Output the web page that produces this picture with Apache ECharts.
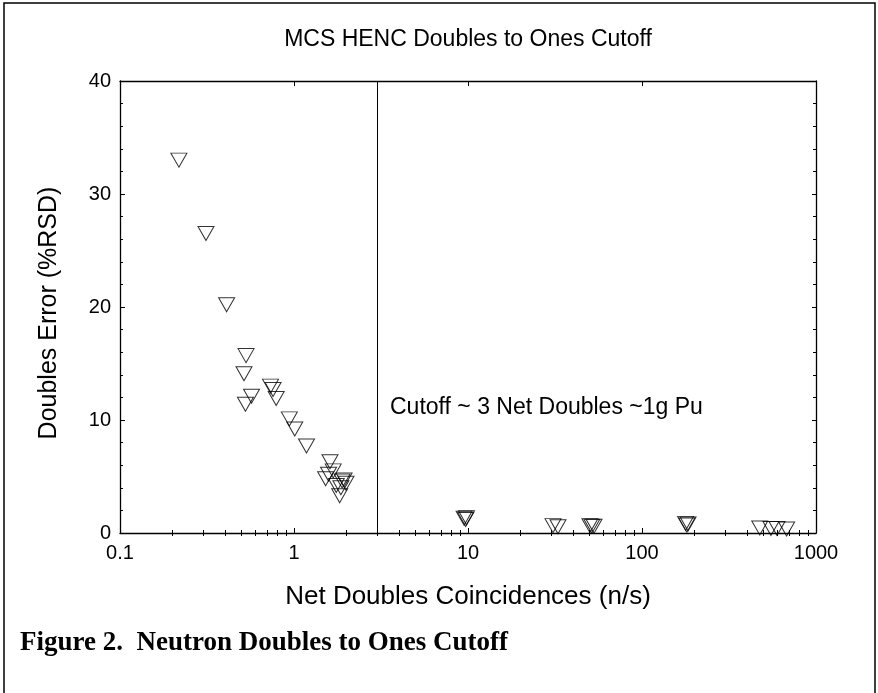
<!DOCTYPE html>
<html>
<head>
<meta charset="utf-8">
<script src="https://cdn.jsdelivr.net/npm/echarts@6/dist/echarts.min.js"></script>
<style>
html,body{margin:0;padding:0;background:#fff;}
#chart{width:878px;height:693px;}
</style>
</head>
<body>
<div id="chart"></div>
<script>
// ---- data ----
const netDoubles = [0.218, 0.312, 0.41, 0.53, 0.516, 0.57, 0.526, 0.733, 0.758, 0.79, 0.94, 1.01, 1.18, 1.61, 1.68, 1.52, 1.58, 1.75, 1.83, 1.94, 1.99, 1.89, 1.86,
  9.5, 9.7, 9.8, 30.8, 32.9, 50.2, 51.5, 53, 178, 181, 184, 475, 551, 597, 678];
const doublesError = [33.0, 26.5, 20.2, 15.7, 14.1, 12.1, 11.4, 13.0, 12.7, 11.9, 10.1, 9.2, 7.7, 6.3, 5.5, 4.8, 5.2, 4.2, 3.3, 4.7, 4.4, 4.6, 4.0,
  1.3, 1.2, 1.35, 0.65, 0.55, 0.65, 0.6, 0.6, 0.85, 0.7, 0.8, 0.45, 0.4, 0.4, 0.35];
const cutoff = 3;
const xTickLabels = ['0.1', '1', '10', '100', '1000'];
const yTicks = [0, 10, 20, 30, 40];
const minorMultipliers = [2, 3, 4, 5, 6, 7, 8, 9];

// ---- build ----
const points = netDoubles.map((x, i) => [x, doublesError[i]]);
const minorLog = [];
for (let d = -1; d < 3; d++) {
  minorMultipliers.forEach(m => minorLog.push(Math.log10(m * Math.pow(10, d))));
}
const FONT = '"Liberation Sans", Arial, sans-serif';

const chart = echarts.init(document.getElementById('chart'), null, {renderer: 'canvas'});
const axisLine = {show: true, onZero: false, lineStyle: {color: '#000', width: 1.3}};
const grid = {left: 120, top: 81, width: 696, height: 452};

chart.setOption({
  animation: false,
  backgroundColor: '#fff',
  grid: grid,
  xAxis: [
    { // bottom major (data axis)
      type: 'log', logBase: 10, min: 0.1, max: 1000, position: 'bottom',
      axisLine: axisLine,
      axisTick: {show: true, inside: true, length: 5, lineStyle: {color: '#000'}},
      axisLabel: {show: true, margin: 10, color: '#000', fontFamily: FONT, fontSize: 20,
        formatter: function (v) {
          const idx = Math.round(Math.log10(v)) + 1;
          return xTickLabels[idx] !== undefined ? xTickLabels[idx] : '';
        }},
      splitLine: {show: false},
      name: 'Net Doubles Coincidences (n/s)', nameLocation: 'middle', nameGap: 51,
      nameTextStyle: {color: '#000', fontFamily: FONT, fontSize: 26}
    },
    { // bottom minor ticks
      type: 'value', min: -1, max: 3, position: 'bottom',
      axisLine: {show: false},
      axisTick: {show: true, inside: true, length: 3, customValues: minorLog, lineStyle: {color: '#000'}},
      axisLabel: {show: false}, splitLine: {show: false}
    },
    { // top major
      type: 'log', logBase: 10, min: 0.1, max: 1000, position: 'top',
      axisLine: axisLine,
      axisTick: {show: true, inside: true, length: 5, lineStyle: {color: '#000'}},
      axisLabel: {show: false}, splitLine: {show: false}
    },
    { // top minor
      type: 'value', min: -1, max: 3, position: 'top',
      axisLine: {show: false},
      axisTick: {show: true, inside: true, length: 3, customValues: minorLog, lineStyle: {color: '#000'}},
      axisLabel: {show: false}, splitLine: {show: false}
    }
  ],
  yAxis: [
    {
      type: 'value', min: 0, max: 40, interval: 10, position: 'left',
      axisLine: axisLine,
      axisTick: {show: true, inside: true, length: 5, lineStyle: {color: '#000'}},
      minorTick: {show: true, splitNumber: 5, length: 3, lineStyle: {color: '#000'}},
      axisLabel: {show: true, margin: 9, color: '#000', fontFamily: FONT, fontSize: 20,
        customValues: yTicks},
      splitLine: {show: false},
      name: 'Doubles Error (%RSD)', nameLocation: 'middle', nameGap: 58, nameRotate: 90,
      nameTextStyle: {color: '#000', fontFamily: FONT, fontSize: 25, padding: [0, 12, 0, 0]}
    },
    {
      type: 'value', min: 0, max: 40, interval: 10, position: 'right',
      axisLine: axisLine,
      axisTick: {show: true, inside: true, length: 4, lineStyle: {color: '#000'}},
      minorTick: {show: true, splitNumber: 5, length: 3, lineStyle: {color: '#000'}},
      axisLabel: {show: false}, splitLine: {show: false}
    }
  ],
  series: [{
    type: 'scatter',
    xAxisIndex: 0, yAxisIndex: 0,
    data: points,
    symbol: 'triangle',
    symbolRotate: 180,
    symbolSize: [16, 14],
    itemStyle: {color: 'rgba(255,255,255,0)', borderColor: '#000', borderWidth: 1},
    markLine: {
      silent: true, symbol: 'none', label: {show: false},
      lineStyle: {color: '#000', type: 'solid', width: 1},
      data: [{xAxis: cutoff}]
    }
  }],
  graphic: [
    {type: 'rect', shape: {x: 4, y: 3, width: 871, height: 710}, style: {fill: 'none', stroke: '#000', lineWidth: 1.5}, silent: true},
    {type: 'text', x: 468, y: 40, style: {text: 'MCS HENC Doubles to Ones Cutoff', fill: '#000', font: '23px ' + FONT, textAlign: 'center', textVerticalAlign: 'middle'}},
    {type: 'text', x: 390, y: 408, style: {text: 'Cutoff ~ 3 Net Doubles ~1g Pu', fill: '#000', font: '23px ' + FONT, textAlign: 'left', textVerticalAlign: 'middle'}},
    {type: 'text', x: 20, y: 643, style: {text: 'Figure 2.  Neutron Doubles to Ones Cutoff', fill: '#000', font: 'bold 27px "Liberation Serif", "Times New Roman", serif', textAlign: 'left', textVerticalAlign: 'middle'}}
  ]
});
</script>
</body>
</html>
